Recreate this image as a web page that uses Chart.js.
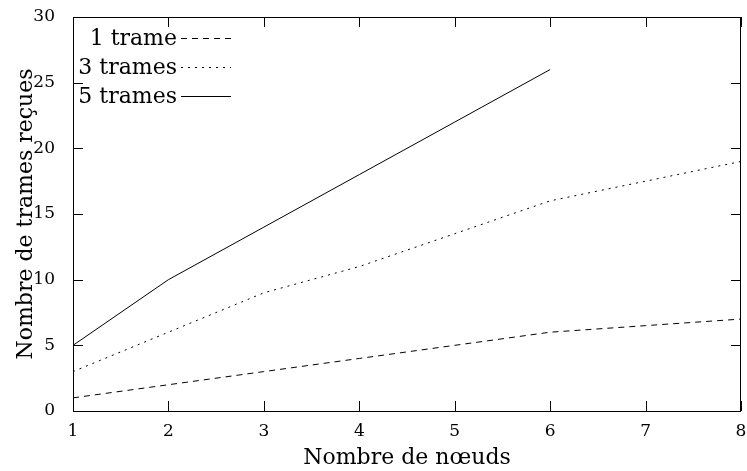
<!DOCTYPE html>
<html>
<head>
<meta charset="utf-8">
<script src="https://cdn.jsdelivr.net/npm/chart.js@4/dist/chart.umd.min.js"></script>
<style>
  html, body { margin: 0; padding: 0; background: #fff; }
</style>
</head>
<body>
<canvas id="chart" width="747" height="471"></canvas>
<script>
const nodes = [1, 2, 3, 4, 5, 6, 7, 8];
const oneFrame = [1, 2, 3, 4, 5, 6, 6.5, 7];
const threeFrames = [3, 6, 9, 11, 13.5, 16, 17.5, 19];
const fiveFrames = [5, 10, 14, 18, 22, 26];
const yTicks = [0, 5, 10, 15, 20, 25, 30];

const serif = "'DejaVu Serif', 'Liberation Serif', serif";

const toPoints = (vals) => vals.map((v, i) => ({ x: nodes[i], y: v }));

// gnuplot-like frame: border on all sides with inward ticks
const framePlugin = {
    id: 'frame',
    afterDraw(chart) {
        const { ctx, chartArea: a, scales } = chart;
        ctx.save();
        ctx.strokeStyle = '#000';
        ctx.lineWidth = 1;
        ctx.setLineDash([]);
        ctx.strokeRect(a.left + 0.5, a.top + 0.5, a.right - a.left - 1, a.bottom - a.top);
        ctx.beginPath();
        nodes.forEach(n => {
            const px = Math.round(scales.x.getPixelForValue(n)) + 0.5;
            ctx.moveTo(px, a.bottom); ctx.lineTo(px, a.bottom - 10);
            ctx.moveTo(px, a.top); ctx.lineTo(px, a.top + 10);
        });
        yTicks.forEach(t => {
            const py = Math.round(scales.y.getPixelForValue(t)) + 0.5;
            ctx.moveTo(a.left, py); ctx.lineTo(a.left + 10, py);
            ctx.moveTo(a.right, py); ctx.lineTo(a.right - 10, py);
        });
        ctx.stroke();
        ctx.restore();
    }
};

// legend in the top-left: label right-aligned, then a sample of the line
const keyPlugin = {
    id: 'key',
    afterDraw(chart) {
        const { ctx, chartArea: a } = chart;
        ctx.save();
        ctx.font = '22px ' + serif;
        ctx.textAlign = 'right';
        ctx.textBaseline = 'middle';
        chart.data.datasets.forEach((ds, i) => {
            const y = a.top + 21 + i * 29;
            ctx.fillStyle = '#000';
            ctx.fillText(ds.label, a.left + 104, y + 1);
            ctx.beginPath();
            ctx.setLineDash(ds.borderDash || []);
            ctx.strokeStyle = ds.borderColor;
            ctx.lineWidth = ds.borderWidth;
            ctx.moveTo(a.left + 108, y + 0.5);
            ctx.lineTo(a.left + 158, y + 0.5);
            ctx.stroke();
        });
        ctx.restore();
    }
};

const ctx = document.getElementById('chart').getContext('2d');
new Chart(ctx, {
    type: 'line',
    data: {
        datasets: [
            { label: '1 trame', data: toPoints(oneFrame), borderColor: '#000', borderWidth: 1, borderDash: [6, 5] },
            { label: '3 trames', data: toPoints(threeFrames), borderColor: '#000', borderWidth: 1, borderDash: [2, 5] },
            { label: '5 trames', data: toPoints(fiveFrames), borderColor: '#000', borderWidth: 1 }
        ]
    },
    options: {
        responsive: false,
        animation: false,
        elements: { point: { radius: 0 }, line: { tension: 0 } },
        layout: { padding: { top: 17, right: 6, left: 0, bottom: 0 } },
        plugins: { legend: { display: false }, tooltip: { enabled: false } },
        scales: {
            x: {
                type: 'linear',
                min: 1,
                max: 8,
                afterFit: s => { s.height = 60; s.paddingLeft = 0; s.paddingRight = 0; },
                afterBuildTicks: s => { s.ticks = nodes.map(v => ({ value: v })); },
                grid: { display: false },
                border: { display: false },
                ticks: { color: '#000', font: { family: serif, size: 17 }, padding: 2, maxRotation: 0 },
                title: { display: true, text: 'Nombre de nœuds', color: '#000', font: { family: serif, size: 22 }, padding: { top: 0, bottom: 0 } }
            },
            y: {
                type: 'linear',
                min: 0,
                max: 30,
                afterFit: s => { s.width = 73; s.paddingTop = 0; s.paddingBottom = 0; },
                afterBuildTicks: s => { s.ticks = yTicks.map(v => ({ value: v })); },
                grid: { display: false },
                border: { display: false },
                ticks: { color: '#000', font: { family: serif, size: 17 }, padding: 10 },
                title: { display: true, text: 'Nombre de trames reçues', color: '#000', font: { family: serif, size: 22 }, padding: { top: 13, bottom: 0 } }
            }
        }
    },
    plugins: [framePlugin, keyPlugin]
});
</script>
</body>
</html>
